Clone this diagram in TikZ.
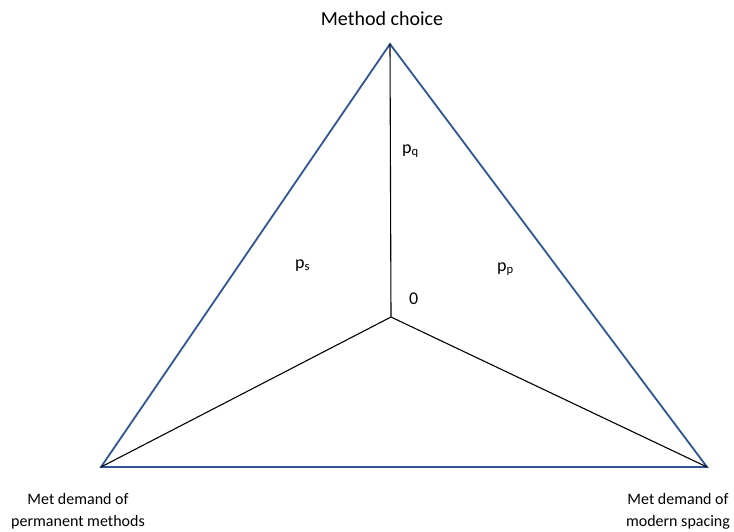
\documentclass[tikz,border=0pt]{standalone}
\usepackage{fontspec}
\setmainfont{Carlito}
\usepackage{xcolor}
\usepackage{tikz}
\usetikzlibrary{calc,positioning}
\definecolor{Edge}{HTML}{2F5597}

\begin{document}
\begin{tikzpicture}[x=1pt,y=-1pt,
  corner/.style={align=center,font=\fontsize{16}{22}\selectfont},
  share/.style={anchor=base west,font=\fontsize{18}{21}\selectfont,inner sep=0pt}
]
\useasboundingbox (0,0) rectangle (734,531);
\coordinate (top) at (390,44);
\coordinate (bl) at (101,467);
\coordinate (br) at (707,467);
\coordinate (o) at (391,317);
\draw[Edge,line width=1.8pt,line join=miter] (top)--(br)--(bl)--cycle;
\draw[black,line width=1.1pt] (o)--(top);
\draw[black,line width=1.1pt] (o)--(bl);
\draw[black,line width=1.1pt] (o)--(br);
\node[anchor=base,font=\fontsize{20}{24}\selectfont,inner sep=0pt] (mc) at (382,25) {Method choice};
\node[corner] (pm) at (78,511) {Met demand of\\permanent methods};
\node[corner] (ms) at (678,511) {Met demand of\\modern spacing};
\node[share] (pq) at (402,153) {p\textsubscript{q}};
\node[share] (ps) at (295,268) {p\textsubscript{s}};
\node[share] (pp) at (497,271) {p\textsubscript{p}};
\node[share] (zero) at (409,304) {0};
\end{tikzpicture}
\end{document}
